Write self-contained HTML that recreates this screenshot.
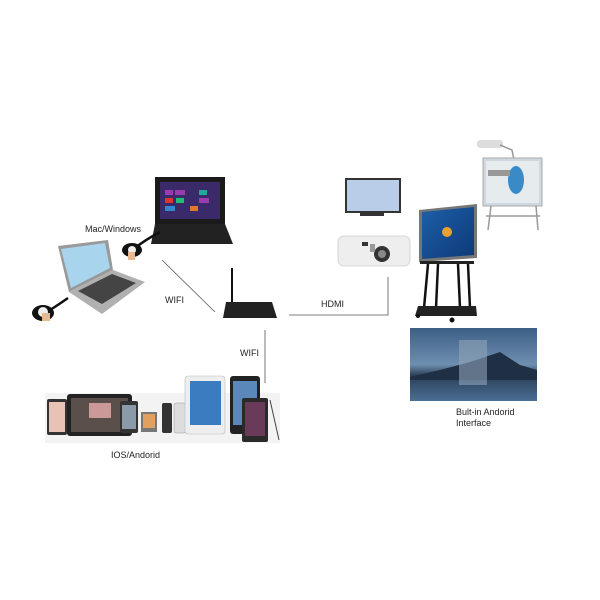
<!DOCTYPE html>
<html><head><meta charset="utf-8"><style>
html,body{margin:0;padding:0;background:#fff;}
svg{display:block}
text{font-family:"Liberation Sans",sans-serif;font-size:9px;fill:#222}
</style></head><body>
<svg width="600" height="600" viewBox="0 0 600 600" xmlns="http://www.w3.org/2000/svg">
<defs>
<linearGradient id="sky" x1="0" y1="0" x2="0" y2="1"><stop offset="0" stop-color="#3c5f86"/><stop offset="0.5" stop-color="#6f8fb0"/><stop offset="0.65" stop-color="#2b3f57"/><stop offset="1" stop-color="#4a6f95"/></linearGradient>
<linearGradient id="win" x1="0" y1="0" x2="1" y2="1"><stop offset="0" stop-color="#1e5fa8"/><stop offset="1" stop-color="#0d3a78"/></linearGradient>
</defs>
<!-- connectors -->
<g stroke="#555" stroke-width="0.8" fill="none">
<line x1="162" y1="260" x2="215" y2="312"/>
<line x1="265" y1="330" x2="265" y2="383"/>
<polyline points="289,315 388,315 388,277"/>
</g>
<!-- black laptop -->
<rect x="155" y="177" width="70" height="47" fill="#1a1a1a"/>
<rect x="160" y="182" width="60" height="37" fill="#3a2a6a"/>
<g fill="#9c3bb0"><rect x="165" y="190" width="8" height="5"/><rect x="175" y="190" width="10" height="5"/><rect x="199" y="190" width="8" height="5" fill="#2a9"/><rect x="165" y="198" width="8" height="5" fill="#d33"/><rect x="176" y="198" width="8" height="5" fill="#2b7"/><rect x="199" y="198" width="10" height="5"/><rect x="165" y="206" width="10" height="5" fill="#38c"/><rect x="190" y="206" width="8" height="5" fill="#d73"/></g>
<polygon points="155,224 225,224 233,244 151,244" fill="#222"/>
<!-- silver laptop -->
<polygon points="58,246 108,240 113,270 69,292" fill="#999"/>
<polygon points="61,249 105,243 110,268 71,288" fill="#a9d4ee"/>
<polygon points="69,292 113,270 145,282 102,314" fill="#b0b0b0"/>
<polygon points="78,291 112,274 136,283 102,304" fill="#444"/>
<!-- dongles -->
<path d="M160,232 Q145,240 135,248" stroke="#111" stroke-width="2.5" fill="none"/>
<ellipse cx="132" cy="250" rx="10" ry="7" fill="#111"/><circle cx="132" cy="250" r="4" fill="#eee"/><rect x="128" y="252" width="7" height="8" fill="#e8b88f"/>
<path d="M68,298 Q58,305 50,310" stroke="#111" stroke-width="2.5" fill="none"/>
<ellipse cx="43" cy="313" rx="11" ry="8" fill="#111"/><circle cx="43" cy="312" r="5" fill="#eee"/><rect x="42" y="313" width="8" height="8" fill="#e8b88f"/>
<!-- router -->
<rect x="231" y="268" width="2" height="38" fill="#111"/>
<polygon points="226,302 272,302 277,318 223,318" fill="#222"/>
<!-- devices -->
<rect x="45" y="393" width="235" height="50" fill="#f3f3f3"/>
<rect x="47" y="399" width="20" height="36" rx="2" fill="#333"/><rect x="49" y="402" width="16" height="30" fill="#e7c2b5"/>
<rect x="67" y="394" width="65" height="42" rx="3" fill="#222"/><rect x="71" y="398" width="57" height="34" fill="#5a4f4a"/><rect x="89" y="403" width="22" height="15" fill="#c99"/>
<rect x="120" y="401" width="18" height="32" rx="2" fill="#333"/><rect x="122" y="405" width="14" height="24" fill="#8a9aa8"/>
<rect x="141" y="412" width="16" height="20" fill="#777"/><rect x="143" y="414" width="12" height="14" fill="#e0a060"/>
<rect x="162" y="403" width="10" height="30" rx="2" fill="#333"/><rect x="174" y="403" width="12" height="30" rx="2" fill="#ddd" stroke="#999" stroke-width="0.5"/><rect x="187" y="403" width="11" height="30" rx="2" fill="#222"/><rect x="189" y="407" width="7" height="20" fill="#c87b4a"/>
<rect x="185" y="376" width="40" height="58" rx="3" fill="#eee" stroke="#bbb" stroke-width="0.6"/><rect x="190" y="381" width="31" height="44" fill="#3b7cc0"/>
<rect x="230" y="376" width="30" height="58" rx="3" fill="#222"/><rect x="233" y="381" width="24" height="44" fill="#5a88bb"/>
<rect x="242" y="398" width="26" height="44" rx="2" fill="#2a2a2a"/><rect x="245" y="402" width="20" height="34" fill="#6a3a5a"/>
<line x1="270" y1="400" x2="279" y2="440" stroke="#444" stroke-width="1"/>
<!-- TV -->
<rect x="345" y="178" width="56" height="35" fill="#333"/><rect x="347" y="180" width="52" height="31" fill="#b9cde8"/>
<rect x="360" y="213" width="24" height="3" fill="#333"/>
<!-- projector -->
<rect x="338" y="236" width="72" height="30" rx="6" fill="#eee" stroke="#ccc" stroke-width="0.8"/>
<circle cx="382" cy="254" r="8" fill="#333"/><circle cx="382" cy="254" r="4" fill="#888"/>
<rect x="362" y="242" width="6" height="4" fill="#333"/><rect x="370" y="244" width="5" height="8" fill="#999"/>
<!-- interactive panel -->
<polygon points="419,210 477,204 477,258 419,262" fill="#777"/>
<polygon points="422,212 474,207 474,255 422,259" fill="url(#win)"/>
<circle cx="447" cy="232" r="5" fill="#e8a030"/>
<rect x="420" y="261" width="54" height="3" fill="#222"/>
<g stroke="#111" stroke-width="2.5"><line x1="428" y1="264" x2="424" y2="308"/><line x1="438" y1="264" x2="436" y2="308"/><line x1="458" y1="264" x2="460" y2="308"/><line x1="468" y1="264" x2="470" y2="308"/></g>
<polygon points="418,306 476,306 477,316 415,316" fill="#222"/>
<circle cx="452" cy="320" r="2.5" fill="#111"/><circle cx="418" cy="316" r="2" fill="#111"/>
<!-- whiteboard -->
<rect x="477" y="140" width="26" height="8" rx="3" fill="#ddd"/><path d="M500,145 L512,150 L514,160" stroke="#999" stroke-width="1.5" fill="none"/>
<rect x="483" y="158" width="59" height="48" fill="#cfd8e0" stroke="#aaa"/><rect x="486" y="161" width="53" height="42" fill="#e6ebee"/>
<ellipse cx="516" cy="180" rx="8" ry="14" fill="#3a8ac8"/><rect x="488" y="170" width="22" height="6" fill="#999"/>
<g stroke="#999" stroke-width="1.5"><line x1="491" y1="206" x2="488" y2="230"/><line x1="536" y1="206" x2="538" y2="230"/><line x1="486" y1="216" x2="540" y2="216"/></g>
<!-- android -->
<rect x="410" y="328" width="127" height="73" fill="url(#sky)"/>
<polygon points="410,377 440,370 470,362 500,352 520,365 537,370 537,380 410,380" fill="#1f2f44"/>
<rect x="459" y="340" width="28" height="45" fill="#8fa3b8" opacity="0.6"/>
<!-- labels -->
<text x="85" y="232">Mac/Windows</text>
<text x="165" y="303">WIFI</text>
<text x="240" y="356">WIFI</text>
<text x="321" y="307">HDMI</text>
<text x="111" y="458">IOS/Andorid</text>
<text x="456" y="415">Bult-in Andorid</text>
<text x="456" y="426">Interface</text>
</svg>
</body></html>
